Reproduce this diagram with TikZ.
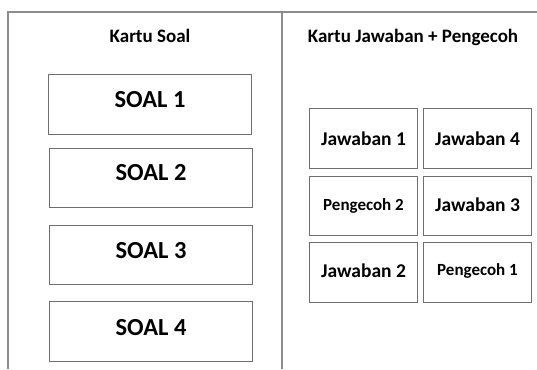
\documentclass[tikz,border=0pt]{standalone}
\usepackage{fontspec}
\setmainfont{Carlito}
\definecolor{frameline}{HTML}{8C8C8C}
\definecolor{cardline}{HTML}{6E6E6E}
\begin{document}
\begin{tikzpicture}[x=1pt,y=-1pt,
  card/.style={draw=cardline,line width=1pt,fill=white,inner sep=0pt,anchor=north west},
  heading/.style={font=\bfseries\fontsize{19}{22}\selectfont,inner sep=0pt,anchor=base},
  soal/.style={font=\bfseries\fontsize{24.5}{28}\selectfont,inner sep=0pt,anchor=base},
  jwb/.style={font=\bfseries\fontsize{19.5}{22}\selectfont,inner sep=0pt,anchor=base},
  pgc/.style={font=\bfseries\fontsize{17}{20}\selectfont,inner sep=0pt,anchor=base}]
\useasboundingbox[fill=white] (0,0) rectangle (537,369);
% frame of the two columns
\coordinate (tl) at (8,12);
\coordinate (tr) at (537,12);
\coordinate (bl) at (8,369);
\coordinate (mt) at (282,12);
\coordinate (mb) at (282,369);
\draw[frameline,line width=1.2pt] (bl) -- (tl) -- (tr);
\draw[frameline,line width=1.2pt] (mt) -- (mb);
% column headings
\node[heading] (h1) at (150,43) {Kartu Soal};
\node[heading] (h2) at (413,43) {Kartu Jawaban + Pengecoh};
% question cards
\node[card,minimum width=203pt,minimum height=60pt] (s1) at (48,74) {};
\node[card,minimum width=203pt,minimum height=59pt] (s2) at (49,148) {};
\node[card,minimum width=203pt,minimum height=59pt] (s3) at (49,225) {};
\node[card,minimum width=203pt,minimum height=60pt] (s4) at (49,301) {};
\node[soal] at (s1.center |- 0,107.7) {SOAL 1};
\node[soal] at (s2.center |- 0,180.7) {SOAL 2};
\node[soal] at (s3.center |- 0,258.7) {SOAL 3};
\node[soal] at (s4.center |- 0,335) {SOAL 4};
% answer and distractor cards
\node[card,minimum width=108pt,minimum height=60pt] (a1) at (309,108) {};
\node[card,minimum width=108pt,minimum height=60pt] (a4) at (423,108) {};
\node[card,minimum width=108pt,minimum height=59pt] (p2) at (309,176) {};
\node[card,minimum width=108pt,minimum height=59pt] (a3) at (423,176) {};
\node[card,minimum width=108pt,minimum height=60pt] (a2) at (309,242) {};
\node[card,minimum width=108pt,minimum height=60pt] (p1) at (423,242) {};
\node[jwb] at (a1.center |- 0,145) {Jawaban 1};
\node[jwb] at (a4.center |- 0,145) {Jawaban 4};
\node[pgc] at (p2.center |- 0,210) {Pengecoh 2};
\node[jwb] at (a3.center |- 0,211) {Jawaban 3};
\node[jwb] at (a2.center |- 0,277.7) {Jawaban 2};
\node[pgc] at (p1.center |- 0,275) {Pengecoh 1};
\end{tikzpicture}
\end{document}
